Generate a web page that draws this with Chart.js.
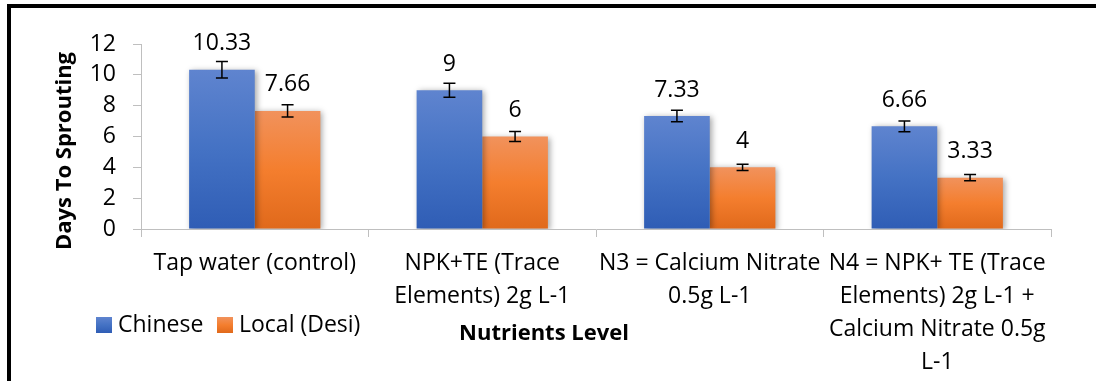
<!DOCTYPE html>
<html>
<head>
<meta charset="utf-8">
<script src="https://cdn.jsdelivr.net/npm/chart.js@4.4.1/dist/chart.umd.min.js"></script>
<style>
  html,body{margin:0;padding:0;background:#fff;width:1096px;height:381px;overflow:hidden;}
  #frame{position:absolute;left:7px;top:4px;right:0;bottom:0;border-top:4px solid #000;border-left:4px solid #000;}
  #c{position:absolute;left:0;top:0;}
</style>
</head>
<body>
<div id="frame"></div>
<canvas id="c" width="1096" height="381"></canvas>
<script>
// ---- data ----
const categories = [
  "Tap water (control)",
  ["NPK+TE (Trace", "Elements) 2g L-1"],
  ["N3 = Calcium Nitrate", "0.5g L-1"],
  ["N4 = NPK+ TE (Trace", "Elements) 2g L-1 +", "Calcium Nitrate 0.5g", "L-1"]
];
const seriesNames = ["Chinese", "Local (Desi)"];
const chineseValues = [10.33, 9, 7.33, 6.66];
const localValues = [7.66, 6, 4, 3.33];
const chineseErrors = [0.54, 0.46, 0.38, 0.35];
const localErrors = [0.40, 0.32, 0.20, 0.20];
const yTickValues = [0, 2, 4, 6, 8, 10, 12];
const xAxisTitle = "Nutrients Level";
const yAxisTitle = "Days To Sprouting";

// ---- styles ----
const FONT = "'Open Sans', sans-serif";
const FS = 23;
const FSB = 22;
const blueStops = ["#5f84cf", "#4472c4", "#2f5db5"];
const orangeStops = ["#f1925c", "#f47e2e", "#e0691b"];

function gradFill(stops) {
  return (ctx) => {
    const ch = ctx.chart;
    if (!ch.chartArea || ctx.type !== 'data') return stops[1];
    const ys = ch.scales.y;
    const y0 = ys.getPixelForValue(ctx.raw);
    const yb = ys.getPixelForValue(0);
    const g = ch.ctx.createLinearGradient(0, y0, 0, yb);
    g.addColorStop(0, stops[0]);
    g.addColorStop(0.5, stops[1]);
    g.addColorStop(1, stops[2]);
    return g;
  };
}

const overlay = {
  id: 'overlay',
  beforeDatasetsDraw(chart) {
    const c = chart.ctx;
    c.save();
    c.shadowColor = 'rgba(0,0,0,0.35)';
    c.shadowBlur = 6;
    c.shadowOffsetX = 2;
    c.shadowOffsetY = 1;
  },
  afterDatasetsDraw(chart) {
    const c = chart.ctx;
    c.restore();
    const ys = chart.scales.y;
    chart.data.datasets.forEach((ds, di) => {
      const meta = chart.getDatasetMeta(di);
      meta.data.forEach((el, i) => {
        const v = ds.data[i], e = ds.errors[i];
        const yt = ys.getPixelForValue(v + e), yb = ys.getPixelForValue(v - e);
        c.save();
        c.strokeStyle = '#000';
        c.lineWidth = 1.5;
        c.beginPath();
        c.moveTo(el.x, yt); c.lineTo(el.x, yb);
        c.moveTo(el.x - 6, yt); c.lineTo(el.x + 6, yt);
        c.moveTo(el.x - 6, yb); c.lineTo(el.x + 6, yb);
        c.stroke();
        c.fillStyle = '#000';
        c.font = FS + 'px ' + FONT;
        c.textAlign = 'center';
        c.textBaseline = 'middle';
        c.fillText(String(v), el.x, el.y - 26);
        c.restore();
      });
    });
  },
  afterDraw(chart) {
    const c = chart.ctx;
    c.save();
    c.fillStyle = '#000';
    c.font = 'bold ' + FSB + 'px ' + FONT;
    c.textAlign = 'center';
    c.textBaseline = 'middle';
    c.fillText(xAxisTitle, 544, 334);
    c.translate(65, 151);
    c.rotate(-Math.PI / 2);
    c.fillText(yAxisTitle, 0, 0);
    c.restore();
    // legend
    const items = [[96, 118, blueStops], [217, 239, orangeStops]];
    c.save();
    c.font = FS + 'px ' + FONT;
    c.textAlign = 'left';
    c.textBaseline = 'middle';
    items.forEach((it, k) => {
      const g = c.createLinearGradient(0, 317, 0, 333);
      g.addColorStop(0, it[2][0]); g.addColorStop(0.5, it[2][1]); g.addColorStop(1, it[2][2]);
      c.fillStyle = g;
      c.fillRect(it[0], 317, 16, 16);
      c.fillStyle = '#000';
      c.fillText(seriesNames[k], it[1], 325);
    });
    c.restore();
  }
};

new Chart(document.getElementById('c'), {
  type: 'bar',
  data: {
    labels: categories,
    datasets: [
      { label: seriesNames[0], data: chineseValues, errors: chineseErrors, backgroundColor: gradFill(blueStops), borderWidth: 0 },
      { label: seriesNames[1], data: localValues, errors: localErrors, backgroundColor: gradFill(orangeStops), borderWidth: 0 }
    ]
  },
  options: {
    responsive: false,
    animation: false,
    events: [],
    categoryPercentage: 0.577,
    barPercentage: 1,
    layout: { padding: { left: 0, top: 44, right: 45, bottom: 0 } },
    plugins: { legend: { display: false }, tooltip: { enabled: false } },
    scales: {
      x: {
        grid: { display: true, drawOnChartArea: false, drawTicks: true, tickLength: 8, color: '#bfbfbf' },
        border: { display: true, color: '#bfbfbf', width: 1 },
        ticks: { color: '#000', font: { family: FONT, size: FS, lineHeight: 33 / FS }, padding: 10, maxRotation: 0, minRotation: 0, autoSkip: false },
        afterFit(s) { s.height = 381 - 229; }
      },
      y: {
        min: 0, max: 12,
        afterBuildTicks(s) { s.ticks = yTickValues.map(v => ({ value: v })); },
        grid: { display: true, drawOnChartArea: false, drawTicks: true, tickLength: 8, color: '#bfbfbf' },
        border: { display: true, color: '#bfbfbf', width: 1 },
        ticks: { color: '#000', font: { family: FONT, size: FS }, padding: 17 },
        afterFit(s) { s.width = 141; }
      }
    }
  },
  plugins: [overlay]
});
</script>
</body>
</html>
